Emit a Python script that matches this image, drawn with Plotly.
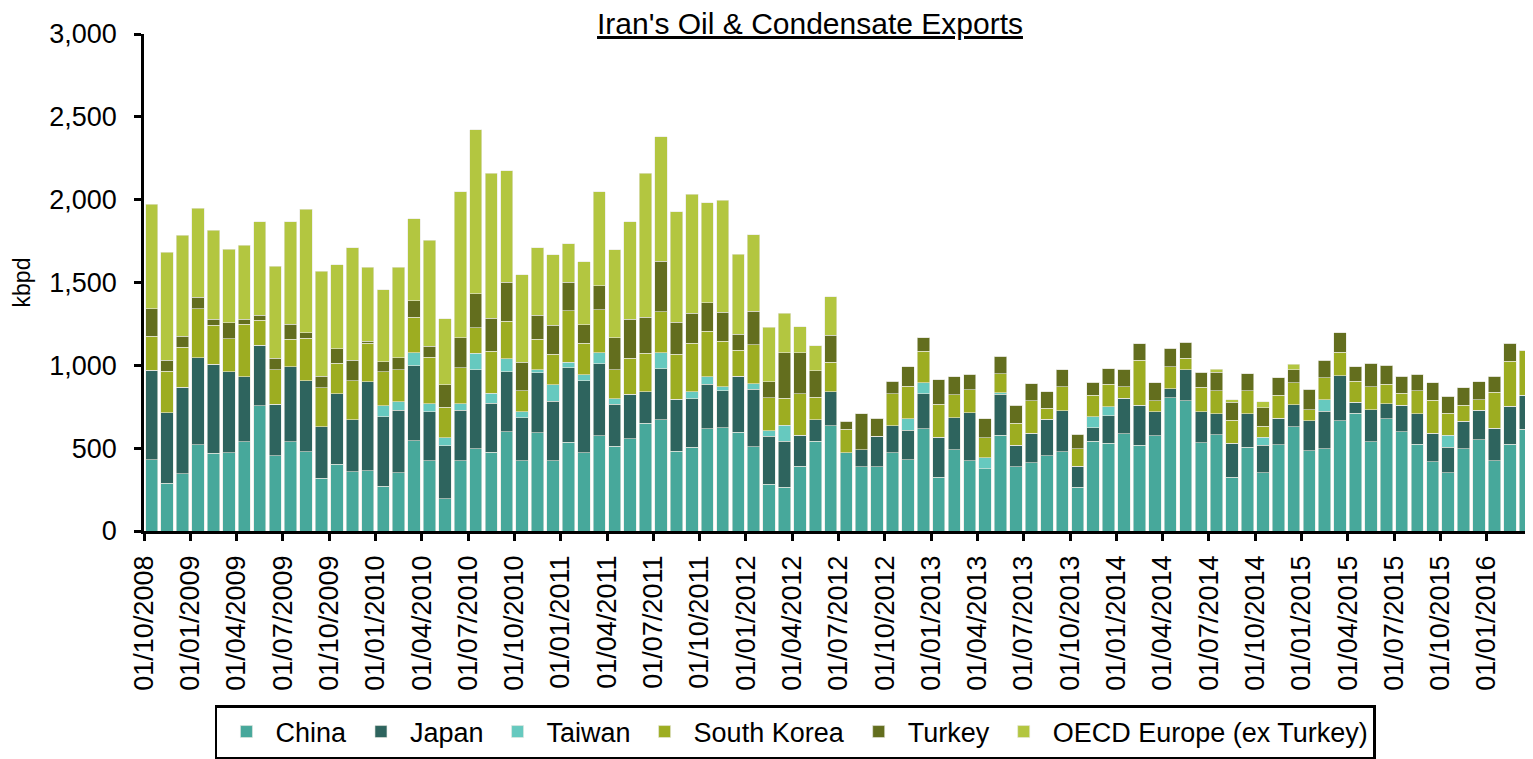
import pandas as pd
import plotly.graph_objects as go

# monthly loadings, Oct 2008 - Mar 2016 (kbpd)
months = pd.date_range("2008-10-01", periods=90, freq="MS").strftime("%d/%m/%Y").tolist()

china = [430, 288, 347, 521, 469, 473, 539, 756, 453, 539, 479, 319, 403, 359, 363,
         269, 353, 545, 425, 196, 425, 497, 475, 599, 425, 593, 425, 537, 473, 575,
         511, 557, 649, 671, 481, 507, 617, 623, 597, 509, 281, 263, 391, 541, 635,
         471, 387, 387, 473, 431, 617, 323, 489, 425, 375, 577, 387, 413, 455, 479,
         263, 541, 529, 587, 519, 575, 804, 786, 533, 581, 323, 507, 353, 521, 629,
         485, 497, 665, 711, 539, 677, 599, 525, 419, 353, 495, 551, 425, 523, 613]
japan = [540, 427, 521, 525, 537, 487, 391, 366, 311, 453, 429, 310, 425, 314, 537,
         420, 376, 453, 294, 319, 303, 475, 297, 363, 260, 363, 359, 449, 433, 435,
         253, 267, 193, 309, 313, 291, 269, 225, 337, 347, 292, 278, 186, 132, 207,
         0, 102, 184, 162, 178, 213, 242, 196, 290, 0, 247, 130, 176, 220, 248,
         128, 82, 168, 215, 239, 146, 56, 186, 188, 128, 206, 202, 166, 160, 133,
         180, 226, 273, 65, 194, 91, 161, 182, 172, 154, 166, 178, 196, 229, 205]
taiwan = [0, 0, 0, 0, 0, 0, 0, 0, 0, 0, 0, 0, 0, 0, 0,
          66, 51, 78, 49, 48, 40, 100, 60, 78, 36, 16, 98, 34, 38, 66,
          34, 0, 0, 96, 0, 42, 46, 22, 0, 34, 32, 98, 0, 0, 0,
          0, 0, 0, 0, 68, 64, 0, 0, 0, 66, 10, 0, 0, 0, 0,
          0, 68, 53, 0, 0, 0, 0, 0, 0, 0, 0, 0, 48, 0, 0,
          0, 69, 0, 0, 0, 0, 0, 0, 0, 70, 0, 0, 0, 0, 0]
south_korea = [206, 249, 240, 297, 236, 202, 317, 149, 208, 164, 256, 237, 186, 235, 234,
               205, 192, 215, 280, 185, 218, 156, 252, 227, 127, 186, 186, 311, 190, 261,
               174, 220, 232, 247, 274, 294, 274, 276, 158, 234, 199, 163, 251, 133, 176,
               142, 0, 0, 193, 197, 192, 201, 137, 137, 122, 116, 134, 197, 66, 143,
               104, 127, 136, 68, 274, 65, 132, 70, 147, 139, 140, 137, 66, 137, 132,
               66, 134, 140, 128, 137, 118, 72, 139, 199, 134, 99, 63, 217, 274, 270]
turkey = [167, 68, 68, 68, 37, 95, 32, 32, 72, 93, 34, 68, 86, 124, 12,
          62, 74, 100, 68, 134, 180, 205, 201, 234, 170, 143, 173, 170, 111, 142,
          196, 233, 217, 304, 191, 181, 173, 175, 96, 203, 98, 274, 248, 162, 164,
          48, 220, 110, 76, 116, 82, 148, 110, 94, 116, 104, 107, 104, 101, 102,
          90, 80, 94, 106, 98, 110, 110, 98, 90, 110, 107, 104, 112, 106, 78,
          125, 106, 118, 88, 144, 116, 102, 100, 106, 103, 104, 110, 96, 108, 0]
oecd_europe = [629, 651, 608, 537, 535, 444, 445, 563, 555, 617, 744, 635, 508, 679, 445,
               435, 545, 495, 639, 399, 882, 988, 873, 675, 529, 408, 426, 234, 380, 569,
               529, 589, 869, 754, 669, 719, 601, 677, 483, 461, 328, 239, 158, 150, 233,
               0, 0, 0, 0, 0, 0, 0, 0, 0, 0, 0, 0, 0, 0, 0,
               0, 0, 0, 0, 0, 0, 0, 0, 0, 18, 16, 0, 35, 0, 36,
               0, 0, 0, 0, 0, 0, 0, 0, 0, 0, 0, 0, 0, 0, 0]

series = [
    ("China", china, "#47a89b"),
    ("Japan", japan, "#2e645e"),
    ("Taiwan", taiwan, "#66c9bf"),
    ("South Korea", south_korea, "#9dad21"),
    ("Turkey", turkey, "#636e1e"),
    ("OECD Europe (ex Turkey)", oecd_europe, "#b3c640"),
]

# one slot per month, labels sit on the left edge of the slot
x = [i + 0.5 for i in range(len(months))]
tick_pos = list(range(0, len(months), 3))
tick_txt = [months[i] for i in tick_pos]

fig = go.Figure()
for name, vals, col in series:
    fig.add_trace(go.Bar(
        x=x, y=vals, name=name,
        marker=dict(color=col, line=dict(color="#e8e8e0", width=0.6)),
        customdata=months,
        hovertemplate="%{customdata}<br>" + name + ": %{y}<extra></extra>",
    ))

# the page body adds an 8px margin, so the figure is 8px smaller on each side
W, H = 1525, 751
font = "Liberation Sans, Arial, sans-serif"
fig.update_layout(
    barmode="stack",
    bargap=0.2,
    width=W, height=H,
    margin=dict(l=136, r=0, t=26, b=227),
    plot_bgcolor="white",
    paper_bgcolor="white",
    font=dict(family=font, size=27, color="black"),
    title=dict(
        text="<u>Iran's Oil & Condensate Exports</u>",
        font=dict(size=30),
        x=802 / W, xref="container", xanchor="center",
        y=1, yref="container", yanchor="top",
        pad=dict(t=5, b=0),
    ),
    legend=dict(
        orientation="h",
        traceorder="normal",
        x=0.469, xanchor="center",
        y=-0.351, yanchor="top",
        bordercolor="black", borderwidth=2.5,
        font=dict(size=27),
        itemwidth=48,
    ),
    showlegend=True,
)
fig.update_xaxes(
    range=[0, len(months)],
    tickmode="array", tickvals=tick_pos, ticktext=tick_txt,
    tickangle=-90,
    ticks="outside", ticklen=7, tickwidth=2.5, tickcolor="black",
    showline=True, linecolor="black", linewidth=2.5,
    showgrid=False, zeroline=False,
    ticklabelstandoff=4,
)
fig.update_yaxes(
    range=[0, 3000], dtick=500, tickformat=",",
    ticks="outside", ticklen=7, tickwidth=2.5, tickcolor="black",
    showline=True, linecolor="black", linewidth=2.5,
    showgrid=False, zeroline=False,
    title=dict(text="kbpd", font=dict(size=23), standoff=13),
    ticklabelstandoff=12,
)

fig.write_html("out.html")
